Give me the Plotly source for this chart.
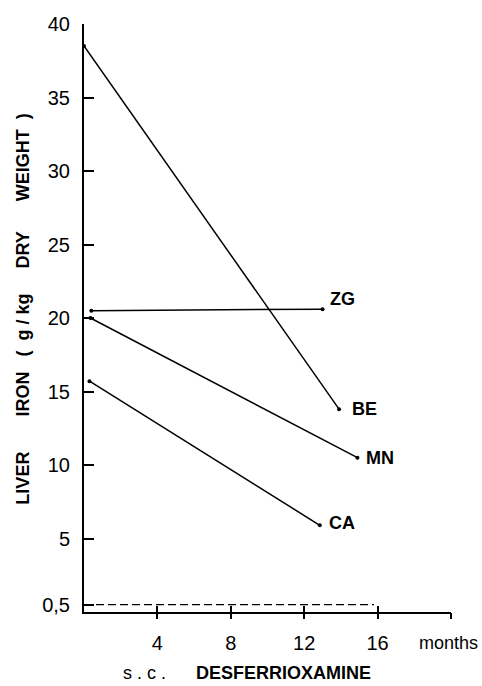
import plotly.graph_objects as go

# ---- data ----
be_months = [0.0, 13.9]
be_iron = [38.5, 13.8]
zg_months = [0.4, 13.0]
zg_iron = [20.5, 20.6]
mn_months = [0.35, 14.9]
mn_iron = [20.0, 10.5]
ca_months = [0.3, 12.85]
ca_iron = [15.7, 5.9]
normal_months = [0.0, 15.8]
normal_iron = [0.5, 0.5]

series = [("BE", be_months, be_iron, 11, 0),
          ("ZG", zg_months, zg_iron, 5, -10),
          ("MN", mn_months, mn_iron, 7, 0),
          ("CA", ca_months, ca_iron, 7, -2)]

y_tickvals = [0.5, 5, 10, 15, 20, 25, 30, 35, 40]
y_ticktext = ["0,5", "5", "10", "15", "20", "25", "30", "35", "40"]
x_tickvals = [4, 8, 12, 16, 20]
x_ticktext = ["4", "8", "12", "16", ""]

FONT = "Liberation Sans, Arial, sans-serif"
NB = "\u00a0"

fig = go.Figure()
for name, xs, ys, dx, dy in series:
    fig.add_trace(go.Scatter(x=xs, y=ys, mode="lines+markers", name=name,
                             line=dict(color="black", width=1.5),
                             marker=dict(color="black", size=4),
                             showlegend=False, hoverinfo="skip"))
    fig.add_annotation(x=xs[-1], y=ys[-1], text="<b>%s</b>" % name,
                       showarrow=False, xanchor="left", yanchor="middle",
                       xshift=dx, yshift=-dy,
                       font=dict(family=FONT, size=18, color="black"))

fig.add_trace(go.Scatter(x=normal_months, y=normal_iron, mode="lines",
                         line=dict(color="black", width=1.2, dash="8px,4px"),
                         showlegend=False, hoverinfo="skip"))

# invisible trace on second x axis so its crossing tick marks render
fig.add_trace(go.Scatter(x=[0], y=[0], xaxis="x2", mode="markers",
                         marker=dict(opacity=0), showlegend=False, hoverinfo="skip"))

fig.update_layout(
    width=482, height=686,
    margin=dict(l=84, r=31, t=24, b=74),
    paper_bgcolor="white", plot_bgcolor="white",
    font=dict(family=FONT, size=20, color="black"),
    xaxis=dict(range=[0, 20], showgrid=False, zeroline=False,
               showline=True, linecolor="black", linewidth=2,
               tickvals=x_tickvals, ticktext=x_ticktext,
               ticks="inside", ticklen=6, tickwidth=1.5, tickcolor="black",
               ticklabelstandoff=12,
               tickfont=dict(family=FONT, size=20, color="black")),
    xaxis2=dict(range=[0, 20], overlaying="x", side="bottom", anchor="y",
                showgrid=False, zeroline=False, showline=False,
                tickvals=x_tickvals, showticklabels=False,
                ticks="outside", ticklen=6, tickwidth=1.5, tickcolor="black"),
    yaxis=dict(range=[0, 40], showgrid=False, zeroline=False,
               showline=True, linecolor="black", linewidth=2,
               tickvals=y_tickvals, ticktext=y_ticktext,
               ticks="inside", ticklen=10, tickwidth=1.5, tickcolor="black",
               ticklabelstandoff=8,
               tickfont=dict(family=FONT, size=20, color="black")),
)

ytitle = ("<b>LIVER" + NB * 7 + "IRON" + NB * 3 + "(" + NB * 2 + "g" + NB + "/" + NB
          + "kg" + NB * 5 + "DRY" + NB * 6 + "WEIGHT" + NB * 2 + ")</b>")
fig.add_annotation(xref="paper", yref="paper", x=-0.165, y=0.515,
                   text=ytitle, textangle=-90, showarrow=False,
                   xanchor="center", yanchor="middle",
                   font=dict(family=FONT, size=18, color="black"))

xtitle = "s" + NB + "." + NB + "c" + NB + "." + NB * 6 + "<b>DESFERRIOXAMINE</b>"
fig.add_annotation(xref="paper", yref="paper", x=0.445, y=-0.103,
                   text=xtitle, showarrow=False, xanchor="center", yanchor="middle",
                   font=dict(family=FONT, size=18, color="black"))

fig.add_annotation(xref="paper", yref="paper", x=(480 - 84) / 367.0, y=-0.052,
                   text="months", showarrow=False, xanchor="right", yanchor="middle",
                   font=dict(family=FONT, size=18, color="black"))

fig.write_html("out.html", config={"displayModeBar": False},
               post_script="document.body.style.margin='0';document.body.style.overflow='hidden';")
